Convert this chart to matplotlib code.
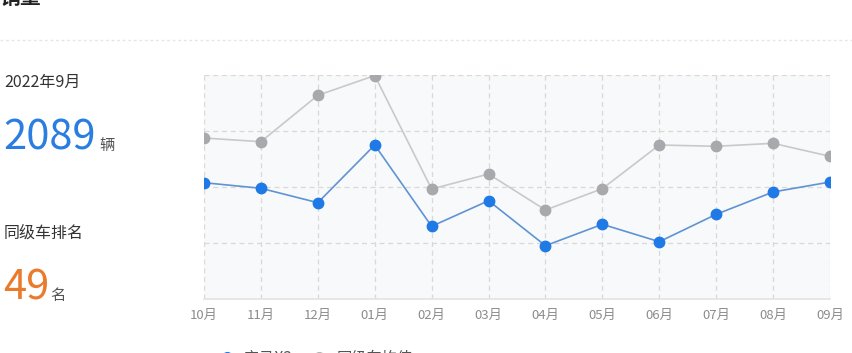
import matplotlib
matplotlib.use("Agg")
import matplotlib.pyplot as plt
from matplotlib.lines import Line2D

plt.rcParams['font.family'] = ['Noto Sans CJK SC', 'DejaVu Sans']

months = ['10月', '11月', '12月', '01月', '02月', '03月', '04月', '05月', '06月', '07月', '08月', '09月']
car_sales = [2077, 1977, 1720, 2750, 1298, 1755, 952, 1334, 1023, 1512, 1911, 2089]
class_avg = [2875, 2809, 3637, 3990, 1964, 2232, 1589, 1970, 2750, 2727, 2780, 2548]
car_name = '宝马X3'
avg_name = '同级车均值'
period = '2022年9月'
latest = '2089'
rank = '49'

W, H = 852, 353
fig = plt.figure(figsize=(W / 100, H / 100), dpi=100)
ax = fig.add_axes([204 / W, 1 - 299 / H, 626 / W, 224 / H])
ax.set_facecolor('#f8f9fa')

x = list(range(len(months)))
ax.plot(x, class_avg, color='#c9c9c9', lw=1.2, marker='o', ms=7.5,
        mfc='#a9a9ad', mec='#a9a9ad', label=avg_name, zorder=3)
ax.plot(x, car_sales, color='#5f93d4', lw=1.2, marker='o', ms=7.5,
        mfc='#1f7ae6', mec='#1f7ae6', label=car_name, zorder=4)

ax.set_xlim(0, len(months) - 1)
ax.set_ylim(0, 4000)
ax.set_yticks([0, 1000, 2000, 3000, 4000])
ax.set_xticks(x)
ax.set_xticklabels(months, color='#8c8c8c', fontsize=9.5)
ax.tick_params(axis='x', length=0, pad=7)
ax.tick_params(axis='y', length=0, labelleft=False)
ax.grid(True, color='#d9d9d9', ls=(0, (4, 3)), lw=0.9)
for s in ['top', 'right', 'left']:
    ax.spines[s].set_visible(False)
ax.spines['bottom'].set_color('#e3e3e3')
ax.spines['bottom'].set_linewidth(1.2)

# legend at the bottom (mostly cut off in the reference)
handles = [Line2D([], [], ls='none', marker='o', ms=7, color='#1f7ae6'),
           Line2D([], [], ls='none', marker='o', ms=7, color='#b3b3b6')]
fig.legend(handles, [car_name, avg_name], loc='center left',
           bbox_to_anchor=(206 / W, -5 / H), ncol=2, frameon=False,
           fontsize=11, handlelength=1.0, handletextpad=0.6, columnspacing=1.3,
           labelcolor='#555555')

# left summary panel
fig.text(0, 1 - 8 / H, '销量', fontsize=15, fontweight='bold', color='#222222',
         va='bottom', ha='left')
fig.add_artist(Line2D([0, 1], [1 - 40 / H, 1 - 40 / H], color='#e6e6e6',
                      lw=1, ls=(0, (2, 2))))
fig.text(4 / W, 1 - 82 / H, period, fontsize=11.5, color='#333333', va='center')
fig.text(3 / W, 1 - 150 / H, latest, fontsize=30, color='#2a7de1', va='baseline')
fig.text(99 / W, 1 - 150 / H, '辆', fontsize=11, color='#555555', va='baseline')
fig.text(4 / W, 1 - 233 / H, '同级车排名', fontsize=11.5, color='#333333', va='center')
fig.text(3 / W, 1 - 300 / H, rank, fontsize=30, color='#ea7a2c', va='baseline')
fig.text(50 / W, 1 - 300 / H, '名', fontsize=11, color='#555555', va='baseline')

fig.savefig('out.png', dpi=100)
